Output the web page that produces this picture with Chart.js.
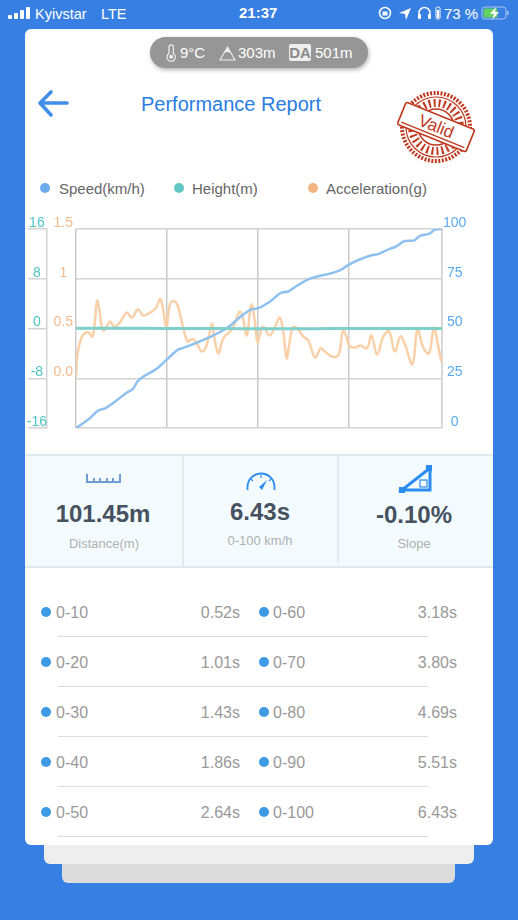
<!DOCTYPE html>
<html>
<head>
<meta charset="utf-8">
<title>Performance Report</title>
<script src="https://cdn.jsdelivr.net/npm/chart.js@4/dist/chart.umd.min.js"></script>
<style>
  html, body { margin: 0; padding: 0; }
  body { width: 518px; height: 920px; overflow: hidden; position: relative; background: #387fe3; font-family: "Liberation Sans", Arial, sans-serif; }
  .abs { position: absolute; white-space: nowrap; }
  .status { color: #fff; font-size: 14.5px; line-height: 18px; }
  .back2 { position: absolute; left: 62px; top: 800px; width: 393px; height: 83px; background: #dcdcdc; border-radius: 6px; }
  .back1 { position: absolute; left: 44px; top: 800px; width: 430px; height: 64px; background: #eeeeee; border-radius: 6px; }
  .card { position: absolute; left: 25px; top: 29px; width: 468px; height: 816px; background: #fff; border-radius: 6px; }
  .pill { position: absolute; left: 150px; top: 37px; width: 218px; height: 31px; background: #969696; border-radius: 16px; box-shadow: 1px 2px 4px rgba(0,0,0,.3); }
  .pill-text { color: #fff; font-size: 15px; line-height: 31px; top: 37px; }
  .da { left: 289px; top: 44px; width: 22px; height: 17px; line-height: 17px; background: #eee; color: #8a8a8a; border-radius: 2px; font-size: 15px; text-align: center; font-weight: bold; }
  .title { left: 141px; top: 92px; font-size: 20px; line-height: 24px; color: #2a7de1; }
  .legend-dot { position: absolute; top: 183px; width: 10px; height: 10px; border-radius: 50%; }
  .legend-text { top: 180px; font-size: 15px; line-height: 17px; color: #666; }
  #chart-wrap { position: absolute; left: 25px; top: 212px; width: 468px; height: 228px; }
  .stats { position: absolute; left: 25px; top: 454px; width: 468px; height: 110px; background: #f4fbff; border-top: 2px solid #dfe8ec; border-bottom: 2px solid #dfe8ec; }
  .sep { position: absolute; top: 456px; width: 2px; height: 110px; background: #e3ebef; }
  .big { font-size: 24px; line-height: 28px; font-weight: bold; color: #46525f; transform: translateX(-50%); }
  .small { font-size: 13px; line-height: 16px; color: #b0b0b0; transform: translateX(-50%); }
  .row-dot { position: absolute; width: 10px; height: 10px; border-radius: 50%; background: #3f9ae6; }
  .row-text { font-size: 16px; line-height: 20px; color: #999; }
  .row-line { position: absolute; left: 58px; width: 370px; height: 1px; background: #ddd; }
</style>
</head>
<body>

<div class="back2"></div>
<div class="back1"></div>
<div class="card"></div>

<!-- barra de status -->
<svg class="abs" style="left:8px;top:6px" width="24" height="14">
  <rect x="0" y="9" width="4" height="4" rx="1" fill="#fff"/>
  <rect x="6" y="7" width="4" height="6" rx="1" fill="#fff"/>
  <rect x="12" y="4" width="4" height="9" rx="1" fill="#fff"/>
  <rect x="18" y="1" width="4" height="12" rx="1" fill="#fff"/>
</svg>
<div class="abs status" style="left:35px;top:5px">Kyivstar</div>
<div class="abs status" style="left:101px;top:5px">LTE</div>
<div class="abs status" style="left:239px;top:4px;font-weight:bold;font-size:15px">21:37</div>
<svg class="abs" style="left:378px;top:5px" width="66" height="18">
  <circle cx="7" cy="8" r="5.5" fill="none" stroke="#fff" stroke-width="1.5"/>
  <rect x="4.5" y="6.5" width="5" height="4" fill="#fff"/>
  <path d="M21 8 L33 3 L28 15 L27 9 Z" fill="#fff"/>
  <path d="M41 12 V8 a5.5 5.5 0 0 1 11 0 V12" fill="none" stroke="#fff" stroke-width="1.5"/>
  <rect x="40" y="9" width="3" height="5" rx="1" fill="#fff"/>
  <rect x="50" y="9" width="3" height="5" rx="1" fill="#fff"/>
  <rect x="58" y="2" width="4" height="12" rx="1.5" fill="none" stroke="#fff"/>
  <rect x="59" y="5" width="2" height="8" fill="#fff"/>
</svg>
<div class="abs status" style="left:444px;top:5px;font-size:15px">73 %</div>
<svg class="abs" style="left:481px;top:6px" width="30" height="15">
  <rect x="1" y="1" width="24" height="12" rx="3" fill="none" stroke="#a8c4ee"/>
  <rect x="2.5" y="2.5" width="14" height="9" rx="1.5" fill="#63d25f"/>
  <rect x="26" y="5" width="1.5" height="4" fill="#a8c4ee"/>
  <path d="M15 1 L9 8 H13 L11 14 L18 6 H14 Z" fill="#fff"/>
</svg>

<!-- pilula de condicoes -->
<div class="pill"></div>
<svg class="abs" style="left:165px;top:44px" width="12" height="18">
  <path d="M4 3 a2.2 2.2 0 0 1 4.4 0 V9.5 a4.2 4.2 0 1 1 -4.4 0 Z" fill="none" stroke="#eee" stroke-width="1.2"/>
  <circle cx="6.2" cy="12.7" r="2" fill="#eee"/>
</svg>
<div class="abs pill-text" style="left:180px">9°C</div>
<svg class="abs" style="left:219px;top:46px" width="17" height="15">
  <path d="M8.5 1 L16 14 H1 Z" fill="none" stroke="#eee" stroke-width="1.1"/>
  <path d="M8.5 1 L12 7 L8.5 6 L5 7 Z" fill="#eee"/>
</svg>
<div class="abs pill-text" style="left:238px">303m</div>
<div class="abs da">DA</div>
<div class="abs pill-text" style="left:315px">501m</div>

<!-- cabecalho -->
<svg class="abs" style="left:36px;top:88px" width="34" height="30">
  <path d="M31 15 H5 M15 4 L4 15 L15 27" fill="none" stroke="#3f8fe8" stroke-width="3.6" stroke-linecap="round" stroke-linejoin="round"/>
</svg>
<div class="abs title">Performance Report</div>
<svg class="abs" style="left:396px;top:86px" width="80" height="80">
  <g fill="none" stroke="#c0391f" transform="translate(40 41)">
    <circle r="34" stroke-width="4" stroke-dasharray="2 1.5"/>
    <circle r="30" stroke-width="1.2"/>
    <circle r="18" stroke-width="1.6"/>
    <circle r="24" stroke-width="8" stroke-dasharray="2 3"/>
  </g>
  <g transform="translate(40 41) rotate(22)">
    <rect x="-37" y="-12" width="74" height="24" rx="2" fill="#fff" stroke="#c0391f" stroke-width="1.6"/>
    <line x1="-34" y1="8.5" x2="34" y2="8.5" stroke="#c0391f" stroke-width="1.2"/>
    <text x="0" y="5" text-anchor="middle" font-size="17" font-family="Liberation Sans" fill="#c0391f">Valid</text>
  </g>
</svg>

<!-- legenda -->
<div class="legend-dot" style="left:40px;background:#6daaec"></div>
<div class="abs legend-text" style="left:59px">Speed(km/h)</div>
<div class="legend-dot" style="left:174px;background:#62c6c2"></div>
<div class="abs legend-text" style="left:192px">Height(m)</div>
<div class="legend-dot" style="left:308px;background:#f2b580"></div>
<div class="abs legend-text" style="left:326px">Acceleration(g)</div>

<div id="chart-wrap"><canvas id="chart-report" width="468" height="228"></canvas></div>

<!-- resumo -->
<div class="stats"></div>
<div class="sep" style="left:182px"></div>
<div class="sep" style="left:337px;height:107px"></div>
<svg class="abs" style="left:85px;top:473px" width="38" height="12">
  <path d="M2 1 V9 H35 V1 M9 5 V9 M15 5 V9 M22 5 V9 M28 5 V9" fill="none" stroke="#6f9ed4" stroke-width="2"/>
</svg>
<svg class="abs" style="left:245px;top:470px" width="32" height="22">
  <path d="M2.5 20 V17 a13.5 13.5 0 0 1 27 0 V20" fill="none" stroke="#2a8cf0" stroke-width="1.8"/>
  <path d="M16 8 V5 M8 11 L6 9 M24 11 L26 9" stroke="#2a8cf0" stroke-width="1.2"/>
  <path d="M22 10 L14 17 L17 20 Z" fill="#2a8cf0"/>
</svg>
<svg class="abs" style="left:398px;top:465px" width="36" height="30">
  <path d="M32 3 L4 25 H32 Z" fill="none" stroke="#2a8cf0" stroke-width="3"/>
  <rect x="22" y="15" width="7" height="7" fill="none" stroke="#2a8cf0" stroke-width="1.2"/>
  <rect x="1" y="22" width="6" height="6" fill="#2a8cf0"/>
  <rect x="28" y="0" width="6" height="6" fill="#2a8cf0"/>
</svg>
<div class="abs big" style="left:103px;top:500px">101.45m</div>
<div class="abs big" style="left:260px;top:498px">6.43s</div>
<div class="abs big" style="left:414px;top:501px">-0.10%</div>
<div class="abs small" style="left:104px;top:536px">Distance(m)</div>
<div class="abs small" style="left:260px;top:533px">0-100 km/h</div>
<div class="abs small" style="left:414px;top:536px">Slope</div>

<div id="splits"></div>

<script>
// tempos em segundos
const speedTime = [0, 0.22, 0.39, 0.52, 0.89, 1.01, 1.07, 1.43, 1.59, 1.80, 1.86, 2.30, 2.64, 3.11, 3.18, 3.41, 3.61, 3.73, 3.80, 4.08, 4.58, 4.69, 4.76, 5.19, 5.31, 5.51, 5.62, 5.78, 5.93, 6.04, 6.22, 6.31, 6.43];
const speedValues = [0, 4.4, 8.7, 10, 17.7, 20, 23, 30, 34.2, 39.5, 40, 45, 50, 59.8, 60, 63.6, 68, 68.6, 70, 74.7, 78.6, 80, 81.5, 86.8, 87.4, 90, 91.1, 94, 94.1, 96.5, 97.8, 99.8, 100];

const heightTime = [0, 0.6, 1.2, 1.9, 2.6, 3.2, 3.9, 4.5, 5.1, 5.8, 6.43];
const heightValues = [0.03, 0.04, 0.03, 0, -0.02, -0.03, -0.03, -0.02, 0, 0, 0];

const accelTime = [0, 0.02, 0.07, 0.13, 0.22, 0.29, 0.33, 0.37, 0.41, 0.44, 0.48, 0.53, 0.60, 0.67, 0.77, 0.89, 0.98, 1.09, 1.18, 1.33, 1.41, 1.48, 1.53, 1.59, 1.63, 1.68, 1.76, 1.83, 1.89, 1.96, 2.02, 2.07, 2.13, 2.21, 2.28, 2.34, 2.39, 2.42, 2.50, 2.56, 2.61, 2.74, 2.82, 2.88, 2.93, 3.00, 3.06, 3.09, 3.13, 3.19, 3.23, 3.29, 3.40, 3.50, 3.58, 3.64, 3.70, 3.74, 3.81, 3.89, 3.99, 4.08, 4.20, 4.30, 4.37, 4.49, 4.59, 4.64, 4.69, 4.75, 4.81, 4.91, 5.00, 5.11, 5.19, 5.29, 5.40, 5.50, 5.60, 5.70, 5.78, 5.91, 6.00, 6.10, 6.20, 6.29, 6.35, 6.41, 6.43];
const accelValues = [0.01, 0.22, 0.36, 0.44, 0.46, 0.42, 0.56, 0.78, 0.69, 0.56, 0.48, 0.51, 0.57, 0.52, 0.56, 0.66, 0.61, 0.69, 0.63, 0.67, 0.71, 0.80, 0.69, 0.50, 0.69, 0.77, 0.76, 0.64, 0.49, 0.37, 0.39, 0.39, 0.34, 0.27, 0.31, 0.44, 0.55, 0.44, 0.25, 0.36, 0.42, 0.49, 0.60, 0.67, 0.61, 0.43, 0.69, 0.74, 0.62, 0.36, 0.44, 0.52, 0.43, 0.52, 0.61, 0.47, 0.20, 0.32, 0.51, 0.50, 0.42, 0.38, 0.21, 0.30, 0.27, 0.22, 0.22, 0.29, 0.48, 0.42, 0.32, 0.31, 0.33, 0.30, 0.43, 0.24, 0.42, 0.47, 0.27, 0.42, 0.34, 0.14, 0.49, 0.31, 0.25, 0.51, 0.36, 0.19, 0.17];

const gridTimes = [0, 1.6, 3.2, 4.8, 6.43];
const heightTicks = [-16, -8, 0, 8, 16];
const accelTicks = [-0.5, 0, 0.5, 1, 1.5];
const accelTickLabels = ["", "0.0", "0.5", "1", "1.5"];
const speedTicks = [0, 25, 50, 75, 100];

const splitLabelsLeft = ["0-10", "0-20", "0-30", "0-40", "0-50"];
const splitTimesLeft = ["0.52s", "1.01s", "1.43s", "1.86s", "2.64s"];
const splitLabelsRight = ["0-60", "0-70", "0-80", "0-90", "0-100"];
const splitTimesRight = ["3.18s", "3.80s", "4.69s", "5.51s", "6.43s"];

function toPoints(xs, ys) {
  return xs.map((x, i) => ({ x, y: ys[i] }));
}

function fixTicks(values) {
  return (scale) => { scale.ticks = values.map((value) => ({ value })); };
}

function fixWidth(w) {
  return (scale) => { scale.width = w; };
}

const tickFont = { family: "Liberation Sans", size: 14 };
const gridColor = "#d3d3d3";

new Chart(document.getElementById("chart-report"), {
  type: "line",
  data: {
    datasets: [
      { label: "Height(m)", data: toPoints(heightTime, heightValues), yAxisID: "yHeight", borderColor: "#7fd0ca", borderWidth: 3, pointRadius: 0, tension: 0.2 },
      { label: "Speed(km/h)", data: toPoints(speedTime, speedValues), yAxisID: "ySpeed", borderColor: "#8ec0f0", borderWidth: 2.5, pointRadius: 0, cubicInterpolationMode: "monotone" },
      { label: "Acceleration(g)", data: toPoints(accelTime, accelValues), yAxisID: "yAccel", borderColor: "#f9d0a8", borderWidth: 2.5, pointRadius: 0, tension: 0.4 },
    ],
  },
  options: {
    responsive: false,
    animation: false,
    layout: { padding: { top: 17, bottom: 12 } },
    plugins: { legend: { display: false }, tooltip: { enabled: false } },
    scales: {
      x: {
        type: "linear",
        min: 0,
        max: 6.43,
        afterBuildTicks: fixTicks(gridTimes),
        ticks: { display: false },
        grid: { color: "#c9c9c9", lineWidth: 1.5, drawTicks: false },
        border: { display: false },
      },
      yHeight: {
        position: "left",
        weight: 1,
        min: -16,
        max: 16,
        afterBuildTicks: fixTicks(heightTicks),
        afterFit: fixWidth(22),
        ticks: { color: "#4fc4c4", font: tickFont, padding: -19, labelOffset: -6, crossAlign: "center" },
        grid: { drawOnChartArea: false, tickLength: 19, tickColor: gridColor, lineWidth: 1.5 },
        border: { color: gridColor, width: 1.5 },
      },
      yAccel: {
        position: "left",
        min: -0.5,
        max: 1.5,
        afterBuildTicks: fixTicks(accelTicks),
        afterFit: fixWidth(29),
        ticks: { color: "#f6bb8c", font: tickFont, padding: 3, labelOffset: -6, crossAlign: "center", callback: (v, i) => accelTickLabels[i] },
        grid: { drawOnChartArea: false, drawTicks: false },
        border: { display: false },
      },
      ySpeed: {
        position: "right",
        min: 0,
        max: 100,
        afterBuildTicks: fixTicks(speedTicks),
        afterFit: fixWidth(51),
        ticks: { color: "#5aa9f0", font: tickFont, padding: 1, labelOffset: -6, crossAlign: "center" },
        grid: { color: gridColor, lineWidth: 1.5, drawTicks: false },
        border: { color: gridColor, width: 1.5 },
      },
    },
  },
});

// tabela de tempos parciais
const box = document.getElementById("splits");
splitLabelsLeft.forEach((label, i) => {
  const y = 613 + i * 50;
  box.innerHTML += `
    <div class="row-dot" style="left:41px;top:${y - 6}px"></div>
    <div class="abs row-text" style="left:56px;top:${y - 10}px">${label}</div>
    <div class="abs row-text" style="right:${518 - 240}px;top:${y - 10}px">${splitTimesLeft[i]}</div>
    <div class="row-dot" style="left:259px;top:${y - 6}px"></div>
    <div class="abs row-text" style="left:273px;top:${y - 10}px">${splitLabelsRight[i]}</div>
    <div class="abs row-text" style="right:${518 - 457}px;top:${y - 10}px">${splitTimesRight[i]}</div>
    <div class="row-line" style="top:${y + 23}px"></div>`;
});
</script>
</body>
</html>
